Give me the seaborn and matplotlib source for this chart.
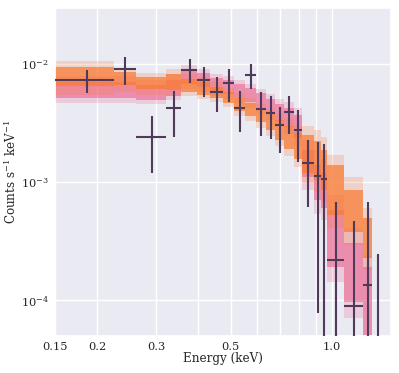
import numpy as np
import matplotlib
matplotlib.use("Agg")
import matplotlib.pyplot as plt
from matplotlib.ticker import FixedLocator, FixedFormatter, NullFormatter
import seaborn as sns

# ---------------- data ----------------
# model bin edges (keV)
model_edges = [0.150, 0.224, 0.261, 0.320, 0.356, 0.398, 0.433, 0.475, 0.510, 0.552,
               0.596, 0.638, 0.676, 0.721, 0.772, 0.815, 0.887, 0.926, 0.967, 1.088,
               1.239, 1.320]

# model A (orange) posterior quantiles: q05, q25, q75, q95
modelA_q95 = [1.05e-2, 9.2e-3, 8.35e-3, 9.0e-3, 8.2e-3, 7.7e-3, 7.0e-3, 6.2e-3, 5.7e-3, 5.1e-3,
              4.55e-3, 4.15e-3, 3.85e-3, 3.5e-3, 3.0e-3, 3.0e-3, 2.75e-3, 2.4e-3, 1.7e-3, 1.1e-3, 6.0e-4]
modelA_q75 = [9.4e-3, 8.5e-3, 7.7e-3, 8.2e-3, 7.4e-3, 7.0e-3, 6.4e-3, 5.8e-3, 5.1e-3, 4.65e-3,
              4.15e-3, 3.75e-3, 3.35e-3, 3.0e-3, 2.6e-3, 2.5e-3, 2.2e-3, 1.85e-3, 1.4e-3, 8.6e-4, 5.0e-4]
modelA_q25 = [6.5e-3, 6.6e-3, 6.1e-3, 6.0e-3, 5.8e-3, 5.45e-3, 5.1e-3, 4.65e-3, 4.0e-3, 3.6e-3,
              3.2e-3, 2.75e-3, 2.25e-3, 1.9e-3, 1.55e-3, 1.2e-3, 1.05e-3, 8.6e-4, 5.3e-4, 3.8e-4, 2.3e-4]
modelA_q05 = [5.45e-3, 5.8e-3, 5.45e-3, 5.3e-3, 5.3e-3, 5.0e-3, 4.75e-3, 4.3e-3, 3.6e-3, 3.3e-3,
              2.85e-3, 2.45e-3, 2.0e-3, 1.65e-3, 1.35e-3, 9.8e-4, 8.2e-4, 6.8e-4, 4.1e-4, 2.95e-4, 1.8e-4]

# model B (pink) posterior quantiles
modelB_q95 = [7.9e-3, 7.9e-3, 7.3e-3, 8.2e-3, 9.75e-3, 9.0e-3, 8.2e-3, 7.9e-3, 7.3e-3, 6.7e-3,
              6.1e-3, 5.55e-3, 5.0e-3, 4.75e-3, 4.2e-3, 2.25e-3, 1.85e-3, 1.55e-3, 7.8e-4, 4.1e-4, 2.4e-4]
modelB_q75 = [7.0e-3, 7.0e-3, 6.6e-3, 7.3e-3, 9.0e-3, 8.35e-3, 7.6e-3, 7.3e-3, 6.7e-3, 6.2e-3,
              5.7e-3, 5.0e-3, 4.55e-3, 4.2e-3, 3.7e-3, 1.85e-3, 1.4e-3, 1.2e-3, 5.8e-4, 3.05e-4, 1.9e-4]
modelB_q25 = [5.1e-3, 5.1e-3, 4.9e-3, 5.3e-3, 6.7e-3, 6.4e-3, 5.9e-3, 5.55e-3, 5.1e-3, 4.75e-3,
              4.2e-3, 3.75e-3, 3.3e-3, 2.9e-3, 2.35e-3, 1.1e-3, 7.1e-4, 6.0e-4, 1.9e-4, 9.7e-5, 5.1e-5]
modelB_q05 = [4.65e-3, 4.65e-3, 4.55e-3, 4.9e-3, 6.1e-3, 5.8e-3, 5.3e-3, 5.0e-3, 4.65e-3, 4.2e-3,
              3.75e-3, 3.35e-3, 2.9e-3, 2.55e-3, 2.0e-3, 8.6e-4, 5.4e-4, 4.8e-4, 1.43e-4, 7.1e-5, 3.8e-5]

# observed data: bin edges, rate and 1-sigma bounds
data_elo = [0.150, 0.224, 0.261, 0.320, 0.356, 0.398, 0.433, 0.475, 0.510, 0.552, 0.596,
            0.638, 0.676, 0.721, 0.772, 0.815, 0.887, 0.926, 0.967, 1.088, 1.239, 1.320]
data_ehi = [0.224, 0.261, 0.320, 0.356, 0.398, 0.433, 0.475, 0.510, 0.552, 0.596, 0.638,
            0.676, 0.721, 0.772, 0.815, 0.887, 0.926, 0.967, 1.088, 1.239, 1.320, 1.424]
data_rate = [7.3e-3, 9.0e-3, 2.4e-3, 4.2e-3, 8.9e-3, 7.3e-3, 5.8e-3, 6.9e-3, 4.25e-3, 8.0e-3, 4.1e-3,
             3.83e-3, 3.03e-3, 3.93e-3, 2.75e-3, 1.45e-3, 1.12e-3, 1.07e-3, 2.2e-4, 9.0e-5, 1.36e-4, 1.0e-5]
data_upper = [8.85e-3, 1.13e-2, 3.61e-3, 5.91e-3, 1.10e-2, 9.33e-3, 7.67e-3, 8.97e-3, 5.88e-3, 9.89e-3, 5.73e-3,
              5.33e-3, 4.34e-3, 5.33e-3, 4.06e-3, 2.27e-3, 2.17e-3, 2.10e-3, 6.74e-4, 4.72e-4, 6.79e-4, 2.45e-4]
data_lower = [5.7e-3, 6.65e-3, 1.19e-3, 2.42e-3, 6.83e-3, 5.2e-3, 3.94e-3, 4.78e-3, 2.67e-3, 6.08e-3, 2.45e-3,
              2.31e-3, 1.75e-3, 2.56e-3, 1.49e-3, 6.19e-4, 7.8e-5, 1e-7, 1e-7, 1e-7, 1e-7, 1e-7]

xtick_vals = [0.15, 0.2, 0.3, 0.5, 1.0]
xtick_labels = ["0.15", "0.2", "0.3", "0.5", "1.0"]
xminor_vals = [0.4, 0.6, 0.7, 0.8, 0.9]

# ---------------- style ----------------
sns.set_theme(style="darkgrid", font="serif")
plt.rcParams["font.family"] = ["DejaVu Serif"]
plt.rcParams["mathtext.fontset"] = "dejavuserif"

ORANGE = "#fa7a33"
PINK = "#ec5283"
DATA = "#4f3a5a"

fig = plt.figure(figsize=(3.99, 3.73), dpi=100)
ax = fig.add_axes([0.138, 0.099, 0.842, 0.8796])


def ext(a):
    a = list(a)
    return np.array(a + [a[-1]])


edges = np.array(model_edges)
for q05, q25, q75, q95, col, a_out, a_in in [
    (modelB_q05, modelB_q25, modelB_q75, modelB_q95, PINK, 0.2, 0.5),
    (modelA_q05, modelA_q25, modelA_q75, modelA_q95, ORANGE, 0.22, 0.72),
]:
    ax.fill_between(edges, ext(q05), ext(q95), step="post", color=col, alpha=a_out, lw=0)
    ax.fill_between(edges, ext(q25), ext(q75), step="post", color=col, alpha=a_in, lw=0)

elo = np.array(data_elo)
ehi = np.array(data_ehi)
xc = (elo + ehi) / 2
y = np.array(data_rate)
ax.errorbar(xc, y,
            xerr=[xc - elo, ehi - xc],
            yerr=[y - np.array(data_lower), np.array(data_upper) - y],
            fmt="none", ecolor=DATA, elinewidth=1.5, capsize=0, zorder=5)

ax.set_xscale("log")
ax.set_yscale("log")
ax.set_xlim(0.15, 1.5)
ax.set_ylim(5.0e-5, 2.95e-2)

ax.xaxis.set_major_locator(FixedLocator(xtick_vals))
ax.xaxis.set_major_formatter(FixedFormatter(xtick_labels))
ax.xaxis.set_minor_locator(FixedLocator(xminor_vals))
ax.xaxis.set_minor_formatter(NullFormatter())
ax.grid(True, which="major", color="white", lw=1.0)
ax.grid(True, which="minor", axis="x", color="white", lw=1.0)
ax.grid(False, which="minor", axis="y")
ax.tick_params(axis="both", which="both", length=0, labelsize=8.2, colors="#262626")
ax.tick_params(axis="x", pad=4)
ax.tick_params(axis="y", pad=4.5)

ax.set_xlabel("Energy (keV)", fontsize=8.6, labelpad=0.5, color="#262626")
ax.set_ylabel("Counts s$^{-1}$ keV$^{-1}$", fontsize=8.6, labelpad=1, color="#262626")

fig.savefig("out.png", dpi=100)
